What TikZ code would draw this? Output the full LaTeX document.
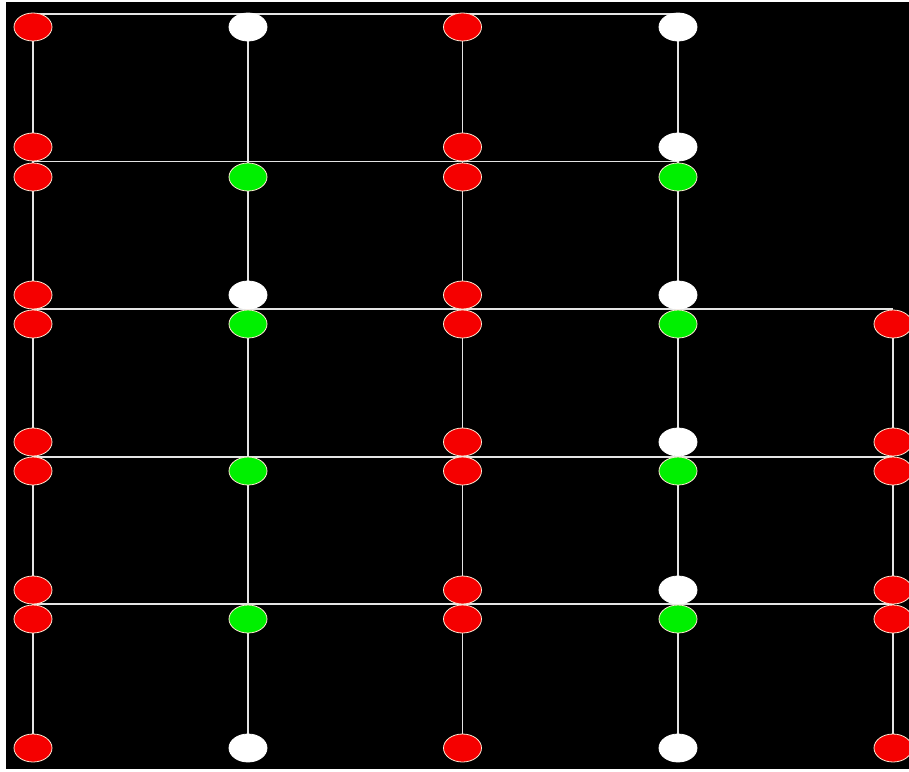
\documentclass[tikz,border=0pt]{standalone}
\usetikzlibrary{shapes.geometric,backgrounds}
\definecolor{nred}{RGB}{245,0,0}
\definecolor{ngreen}{RGB}{0,240,0}
\definecolor{rim}{RGB}{255,232,210}
\definecolor{wirec}{RGB}{228,228,228}
\tikzset{
  dot/.style={ellipse, minimum width=38pt, minimum height=28pt, inner sep=0pt, draw=rim, line width=0.8pt},
  rdot/.style={dot, fill=nred},
  gdot/.style={dot, fill=ngreen},
  wdot/.style={dot, fill=white, draw=white},
  wire/.style={draw=wirec, line width=1.3pt}
}
\begin{document}
\begin{tikzpicture}[x=1pt,y=-1pt]
\useasboundingbox (0,0) rectangle (909,771);
% columns x: 33, 248, 462.5, 678, 893
% rows y: 27,147,177,295,324,442,471,590,619,748
\foreach \r/\y in {1/27,2/147,3/177,4/295,5/324,6/442,7/471,8/590,9/619,10/748}{
  \node[rdot] (c1r\r) at (33,\y) {};
  \node[rdot] (c3r\r) at (462.5,\y) {};
}
\foreach \r/\y/\s in {1/27/wdot,3/177/gdot,4/295/wdot,5/324/gdot,7/471/gdot,9/619/gdot,10/748/wdot}{
  \node[\s] (c2r\r) at (248,\y) {};
}
\foreach \r/\y/\s in {1/27/wdot,2/147/wdot,3/177/gdot,4/295/wdot,5/324/gdot,6/442/wdot,7/471/gdot,8/590/wdot,9/619/gdot,10/748/wdot}{
  \node[\s] (c4r\r) at (678,\y) {};
}
\foreach \r/\y in {5/324,6/442,7/471,8/590,9/619,10/748}{
  \node[rdot] (c5r\r) at (893,\y) {};
}
\coordinate (h0a) at (28,14);   \coordinate (h0b) at (684,14);
\coordinate (h1a) at (33,161.5); \coordinate (h1b) at (678,161.5);
\coordinate (h2a) at (33,309);  \coordinate (h2b) at (893,309);
\coordinate (h3a) at (33,457);  \coordinate (h3b) at (893,457);
\coordinate (h4a) at (33,604);  \coordinate (h4b) at (893,604);
\begin{scope}[on background layer]
  \fill[white] (0,0) rectangle (909,771);
  \fill[black] (6,2) rectangle (909,769);
  \draw[wire] (c1r1.center) -- (c1r10.center);
  \draw[wire] (c2r1.center) -- (c2r10.center);
  \draw[wire] (c3r1.center) -- (c3r10.center);
  \draw[wire] (c4r1.center) -- (c4r10.center);
  \draw[wire] (c5r5.center) -- (c5r10.center);
  \draw[wire] (h0a) -- (h0b);
  \draw[wire] (h1a) -- (h1b);
  \draw[wire] (h2a) -- (h2b);
  \draw[wire] (h3a) -- (h3b);
  \draw[wire] (h4a) -- (h4b);
\end{scope}
\end{tikzpicture}
\end{document}
